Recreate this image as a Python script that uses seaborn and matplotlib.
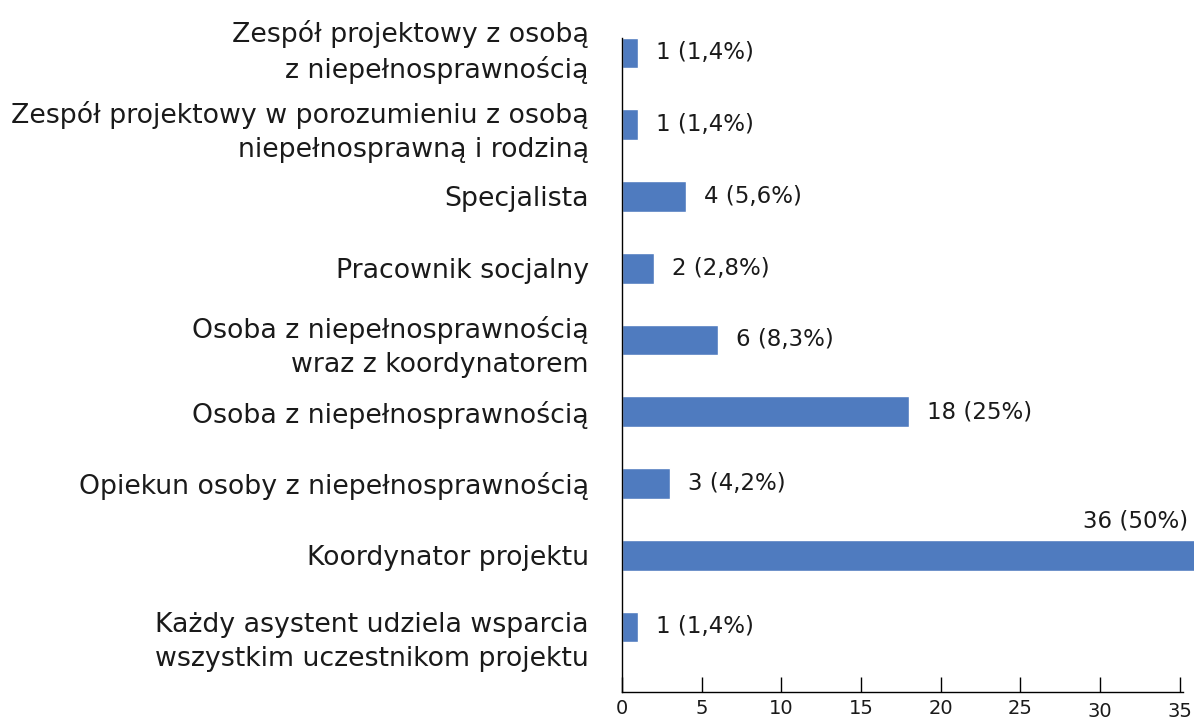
import matplotlib
matplotlib.use("Agg")
import matplotlib.pyplot as plt
import matplotlib.transforms as mtransforms
import seaborn as sns
import pandas as pd

# === Dane ===
categories = [
    "Zespół projektowy z osobą\nz niepełnosprawnością",
    "Zespół projektowy w porozumieniu z osobą\nniepełnosprawną i rodziną",
    "Specjalista",
    "Pracownik socjalny",
    "Osoba z niepełnosprawnością\nwraz z koordynatorem",
    "Osoba z niepełnosprawnością",
    "Opiekun osoby z niepełnosprawnością",
    "Koordynator projektu",
    "Każdy asystent udziela wsparcia\nwszystkim uczestnikom projektu",
]
counts = [1, 1, 4, 2, 6, 18, 3, 36, 1]
percents = ["1,4%", "1,4%", "5,6%", "2,8%", "8,3%", "25%", "4,2%", "50%", "1,4%"]
xticks = [0, 5, 10, 15, 20, 25, 30, 35]

df = pd.DataFrame({"kategoria": categories, "liczba": counts, "procent": percents})

# === Style ===
sns.set_theme(style="white")
plt.rcParams["font.family"] = ["DejaVu Sans"]

fig = plt.figure(figsize=(11.94, 7.22), dpi=100)
ax = fig.add_axes([622 / 1194, 30 / 722, (1183 - 622) / 1194, (684 - 30) / 722])

sns.barplot(data=df, y="kategoria", x="liczba", orient="h", color="#4F7BBF",
            saturation=1, width=0.43, ax=ax)
for p in ax.patches:
    p.set_clip_on(False)

ax.set_xlim(0, 35.2)
ax.set_ylim(8.906, -0.209)
ax.set_xticks(xticks)
ax.set_xlabel("")
ax.set_ylabel("")

for i, (c, pct) in enumerate(zip(counts, percents)):
    if c >= 35:
        ax.annotate(f"{c} ({pct})", xy=(1.0, i), xycoords=("axes fraction", "data"),
                    xytext=(4, 25), textcoords="offset points",
                    ha="right", va="center", fontsize=16.5, color="#1a1a1a",
                    annotation_clip=False)
    else:
        ax.annotate(f"{c} ({pct})", xy=(c, i), xytext=(13, 0), textcoords="offset points",
                    ha="left", va="center", fontsize=16.5, color="#1a1a1a")

for s in ["top", "right"]:
    ax.spines[s].set_visible(False)
for s in ["left", "bottom"]:
    ax.spines[s].set_color("black")
    ax.spines[s].set_linewidth(1.0)

ax.tick_params(axis="y", length=0, pad=24, labelsize=19.3, labelcolor="#1a1a1a")
ax.tick_params(axis="x", direction="in", length=11, width=1, color="black",
               bottom=True, pad=5, labelsize=14, labelcolor="#1a1a1a")
ylabels = ax.get_yticklabels()
for lbl in ylabels:
    lbl.set_linespacing(1.4)

# pierwsza etykieta wyżej, ostatnia niżej - jak w oryginale
ylabels[0].set_transform(ylabels[0].get_transform() +
                         mtransforms.ScaledTranslation(0, 6 / 72, fig.dpi_scale_trans))
ylabels[-1].set_transform(ylabels[-1].get_transform() +
                          mtransforms.ScaledTranslation(0, -6 / 72, fig.dpi_scale_trans))

# etykiety 30 i 35 lekko niżej
shift = mtransforms.ScaledTranslation(0, -2 / 72, fig.dpi_scale_trans)
for lbl in ax.get_xticklabels()[-2:]:
    lbl.set_transform(lbl.get_transform() + shift)

fig.savefig("out.png", dpi=100)
